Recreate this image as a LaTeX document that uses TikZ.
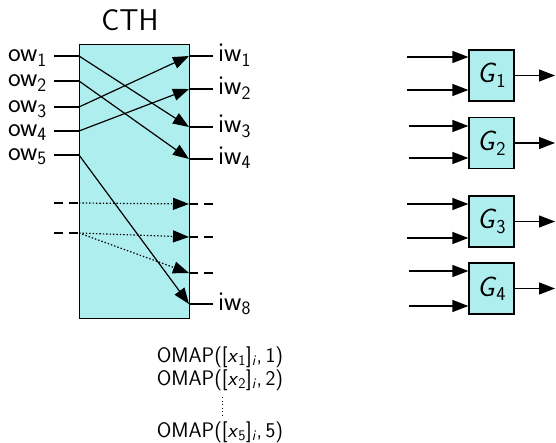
\documentclass[tikz,border=0pt]{standalone}
\usetikzlibrary{arrows.meta}
\definecolor{boxfill}{RGB}{175,238,238}
\begin{document}
\begin{tikzpicture}[x=1pt,y=-1pt,
  lbl/.style={font=\sffamily\fontsize{27}{31}\selectfont, inner sep=0pt},
  omap/.style={font=\sffamily\fontsize{21}{25}\selectfont, inner sep=0pt},
  wire/.style={line width=1.2pt},
  arr/.style={line width=1.2pt, -{Triangle[length=16pt,width=12pt]}},
  darr/.style={line width=1.2pt, dash pattern=on 1.4pt off 2pt, -{Triangle[length=16pt,width=12pt]}},
  dstub/.style={line width=1.2pt, dash pattern=on 9pt off 6pt},
  gbox/.style={draw, fill=boxfill, line width=1.2pt, minimum width=45pt, minimum height=51pt, inner sep=0pt, font=\sffamily\fontsize{28}{32}\selectfont}
]
\useasboundingbox (0,0) rectangle (556,443);

% CTH box
\node[draw, fill=boxfill, line width=1.2pt, minimum width=110pt, minimum height=274pt, inner sep=0pt, anchor=north west] (cth) at (79,44) {};
\node[font=\sffamily\fontsize{30}{34}\selectfont, inner sep=0pt] (title) at (130,20) {CTH};

% left ports
\foreach \i/\y in {1/56,2/81,3/107,4/131,5/155}{
  \coordinate (ls\i) at (54,\y);
  \coordinate (L\i) at (79,\y);
  \node[lbl, anchor=base east] (ow\i) at (47,\y+6) {ow\textsubscript{\i}};
  \draw[wire] (ls\i) -- (L\i);
}
% right ports
\foreach \i/\y in {1/56,2/89,3/127,4/159,8/304}{
  \coordinate (R\i) at (189,\y);
  \coordinate (rs\i) at (213,\y);
  \node[lbl, anchor=base west] (iw\i) at (218,\y+6) {iw\textsubscript{\i}};
  \draw[wire] (R\i) -- (rs\i);
}
\draw[arr] (L1) -- (R3);
\draw[arr] (L2) -- (R4);
\draw[arr] (L3) -- (R1);
\draw[arr] (L4) -- (R2);
\draw[arr] (L5) -- (R8);

% dashed/dotted ports
\coordinate (lA0) at (54,203); \coordinate (LA) at (79,203);
\coordinate (lB0) at (54,233); \coordinate (LB) at (79,233);
\coordinate (RA) at (189,204); \coordinate (rA0) at (213,204);
\coordinate (RB) at (189,237); \coordinate (rB0) at (213,237);
\coordinate (RC) at (189,273); \coordinate (rC0) at (213,273);
\draw[dstub] (lA0) -- (LA);
\draw[dstub] (lB0) -- (LB);
\draw[dstub] (RA) -- (rA0);
\draw[dstub] (RB) -- (rB0);
\draw[dstub] (RC) -- (rC0);
\draw[darr] (LA) -- (RA);
\draw[darr] (LB) -- (RB);
\draw[darr] (LB) -- (RC);

% OMAP text
\node[omap] (om1) at (220,357) {OMAP([\textit{x}\textsubscript{1}]\textsubscript{\textit{i}},\,1)};
\node[omap] (om2) at (220,380) {OMAP([\textit{x}\textsubscript{2}]\textsubscript{\textit{i}},\,2)};
\node[omap] (om5) at (220,432) {OMAP([\textit{x}\textsubscript{5}]\textsubscript{\textit{i}},\,5)};
\coordinate (vd1) at (222,397);
\coordinate (vd2) at (222,416);
\draw[line width=1pt, dash pattern=on 1pt off 2.5pt] (vd1) -- (vd2);

% G boxes
\foreach \i/\cy/\ya/\yb/\xs in {1/75.5/57/90/407, 2/143/126/158/409, 3/221.5/204/238/407, 4/288.5/271/306/409}{
  \node[gbox] (G\i) at (491.5,\cy) {\textit{G}\textsubscript{\i}};
  \coordinate (ga\i) at (\xs,\ya);
  \coordinate (gb\i) at (\xs,\yb);
  \coordinate (go\i) at (555,\cy);
  \draw[arr] (ga\i) -- (ga\i -| G\i.west);
  \draw[arr] (gb\i) -- (gb\i -| G\i.west);
  \draw[arr] (G\i.east) -- (go\i);
}
\end{tikzpicture}
\end{document}
